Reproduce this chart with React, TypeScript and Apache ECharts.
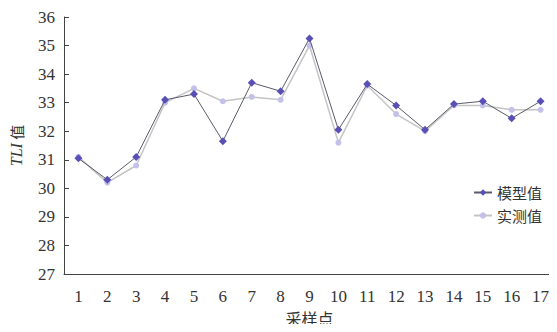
import React, { useEffect, useRef } from "react";
import * as echarts from "echarts";

const categories = ["1","2","3","4","5","6","7","8","9","10","11","12","13","14","15","16","17"];
const modelValues = [31.05, 30.3, 31.1, 33.1, 33.3, 31.65, 33.7, 33.4, 35.25, 32.05, 33.65, 32.9, 32.05, 32.95, 33.05, 32.45, 33.05];
const measuredValues = [31.1, 30.2, 30.8, 33.0, 33.5, 33.05, 33.2, 33.1, 35.0, 31.6, 33.6, 32.6, 32.0, 32.9, 32.9, 32.75, 32.75];
const seriesNames = ["模型值", "实测值"];

const serif = "'Liberation Serif', 'DejaVu Serif', serif";
const cjk = "'Noto Sans CJK SC', sans-serif";

export default function App() {
  const ref = useRef<HTMLDivElement>(null);
  useEffect(() => {
    if (!ref.current) return;
    const chart = echarts.init(ref.current, null, { renderer: "svg" });
    chart.setOption({
      animation: false,
      backgroundColor: "#fff",
      grid: { left: 62, right: 2, top: 17, bottom: 58, containLabel: false },
      legend: {
        orient: "vertical",
        right: 10,
        top: 180,
        itemWidth: 18,
        itemHeight: 8,
        itemGap: 8,
        textStyle: { fontFamily: cjk, fontSize: 15, color: "#333" },
        data: seriesNames,
      },
      xAxis: {
        type: "category",
        data: categories,
        boundaryGap: true,
        name: "采样点",
        nameLocation: "middle",
        nameGap: 36,
        nameTextStyle: { fontFamily: cjk, fontSize: 16, color: "#333" },
        axisLine: { lineStyle: { color: "#444", width: 1 } },
        axisTick: { inside: true, length: 5, lineStyle: { color: "#444" } },
        axisLabel: { fontFamily: serif, fontSize: 17, color: "#333", margin: 14 },
        splitLine: { show: false },
      },
      yAxis: {
        type: "value",
        min: 27,
        max: 36,
        interval: 1,
        name: "{i|TLI} 值",
        nameLocation: "middle",
        nameRotate: 90,
        nameGap: 40,
        nameTextStyle: {
          fontFamily: cjk,
          fontSize: 15,
          color: "#333",
          rich: { i: { fontFamily: serif, fontStyle: "italic", fontSize: 16, color: "#333" } },
        },
        axisLine: { show: true, lineStyle: { color: "#444", width: 1 } },
        axisTick: { show: true, inside: true, length: 5, lineStyle: { color: "#444" } },
        axisLabel: { fontFamily: serif, fontSize: 17, color: "#333", margin: 9 },
        splitLine: { show: false },
      },
      series: [
        {
          name: seriesNames[1],
          type: "line",
          data: measuredValues,
          symbol: "circle",
          symbolSize: 6,
          lineStyle: { color: "#c4c4c4", width: 1.5 },
          itemStyle: { color: "#c3c0ea" },
          z: 2,
        },
        {
          name: seriesNames[0],
          type: "line",
          data: modelValues,
          symbol: "diamond",
          symbolSize: 8,
          lineStyle: { color: "#5a5a6a", width: 1 },
          itemStyle: { color: "#5850b4" },
          z: 3,
        },
      ],
    });
    return () => chart.dispose();
  }, []);
  return <div ref={ref} style={{ width: 557, height: 332, margin: -8 }} />;
}
